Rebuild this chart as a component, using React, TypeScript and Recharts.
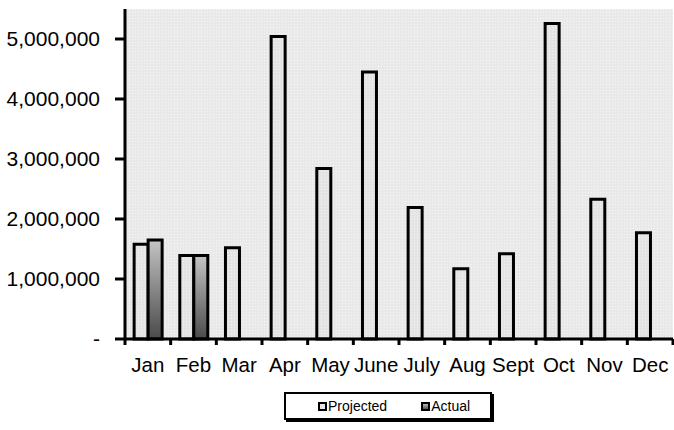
import React from "react";
import { BarChart, Bar, XAxis, YAxis, CartesianGrid, Legend } from "recharts";

const months = ["Jan", "Feb", "Mar", "Apr", "May", "June", "July", "Aug", "Sept", "Oct", "Nov", "Dec"];
const projected = [1580000, 1390000, 1520000, 5040000, 2840000, 4450000, 2190000, 1170000, 1420000, 5260000, 2330000, 1770000];
const actual = [1650000, 1390000, null, null, null, null, null, null, null, null, null, null];
const seriesOrder = ["projected", "actual"];
const yTicks = [0, 1000000, 2000000, 3000000, 4000000, 5000000];

const data = months.map((m, i) => ({ month: m, projected: projected[i], actual: actual[i] }));

const FONT = "'Liberation Sans', Arial, sans-serif";
const W = 674;
const H = 430;
const MARGIN = { top: 9, right: 1, left: 0, bottom: 10 };
const Y_W = 125;
const BAND = (W - MARGIN.left - MARGIN.right - Y_W) / months.length;

const MonthTick = (props: any) => {
  const { x, y, payload, index } = props;
  const last = index === months.length - 1;
  return (
    <g>
      <line x1={x - BAND / 2} x2={x - BAND / 2} y1={y} y2={y + 6} stroke="#000" strokeWidth={3} />
      {last && <line x1={x + BAND / 2} x2={x + BAND / 2} y1={y} y2={y + 6} stroke="#000" strokeWidth={3} />}
      <text x={x} y={y} dy={33} textAnchor="middle" fill="#000" fontSize={20.5} fontFamily={FONT}>
        {payload.value}
      </text>
    </g>
  );
};

const LegendBox = (props: any) => {
  const items = [...(props.payload || [])].sort(
    (a: any, b: any) => seriesOrder.indexOf(a.dataKey) - seriesOrder.indexOf(b.dataKey)
  );
  return (
    <div style={{ height: 28, position: "relative" }}>
      <div
        style={{
          position: "absolute",
          left: 284,
          top: 0,
          width: 208,
          height: 28,
          boxSizing: "border-box",
          border: "2px solid #000",
          boxShadow: "2px 2px 0 #000",
          background: "#fff",
          display: "flex",
          alignItems: "center",
          fontFamily: FONT,
          fontSize: 14,
          color: "#000",
        }}
      >
        {items.map((it: any, i: number) => (
          <div key={it.value} style={{ display: "flex", alignItems: "center", marginLeft: i === 0 ? 32 : 34 }}>
            <span
              style={{
                display: "inline-block",
                width: 9,
                height: 9,
                boxSizing: "border-box",
                border: "2px solid #000",
                background: it.dataKey === "actual" ? "linear-gradient(#bbbbbb, #555555)" : "#e6e6e6",
              }}
            />
            <span style={{ marginLeft: 1 }}>{it.value}</span>
          </div>
        ))}
      </div>
    </div>
  );
};

export default function App() {
  return (
    <div style={{ position: "absolute", left: 0, top: 0, width: W, height: H, background: "#fff" }}>
      <BarChart width={W} height={H} data={data} margin={MARGIN} barCategoryGap="20%" barGap={0}>
        <defs>
          <pattern id="bgDots" width="3" height="3" patternUnits="userSpaceOnUse">
            <rect width="3" height="3" fill="#e9e9e9" />
            <rect width="1" height="1" fill="#f6f6f6" />
          </pattern>
          <pattern id="barDots" width="3" height="3" patternUnits="userSpaceOnUse">
            <rect width="3" height="3" fill="#e4e4e4" />
            <rect width="1" height="1" fill="#f2f2f2" />
          </pattern>
          <linearGradient id="actualGrad" x1="0" y1="0" x2="0" y2="1">
            <stop offset="0%" stopColor="#c4c4c4" />
            <stop offset="100%" stopColor="#4a4a4a" />
          </linearGradient>
        </defs>
        <CartesianGrid horizontal={false} vertical={false} fill="url(#bgDots)" stroke="none" />
        <XAxis
          dataKey="month"
          height={53}
          interval={0}
          tickSize={0}
          tickMargin={0}
          tick={<MonthTick />}
          axisLine={{ stroke: "#000", strokeWidth: 3 }}
        />
        <YAxis
          width={Y_W}
          domain={[0, 5500000]}
          ticks={yTicks}
          interval={0}
          tickSize={10}
          tickMargin={15}
          tickFormatter={(v: number) => (v === 0 ? "-" : v.toLocaleString("en-US"))}
          tick={{ fill: "#000", fontSize: 21, fontFamily: FONT }}
          tickLine={{ stroke: "#000", strokeWidth: 3 }}
          axisLine={{ stroke: "#000", strokeWidth: 3 }}
        />
        <Legend verticalAlign="bottom" content={<LegendBox />} />
        <Bar dataKey="projected" name="Projected" fill="url(#barDots)" stroke="#000" strokeWidth={3} isAnimationActive={false} />
        <Bar dataKey="actual" name="Actual" fill="url(#actualGrad)" stroke="#000" strokeWidth={3} isAnimationActive={false} />
      </BarChart>
    </div>
  );
}
